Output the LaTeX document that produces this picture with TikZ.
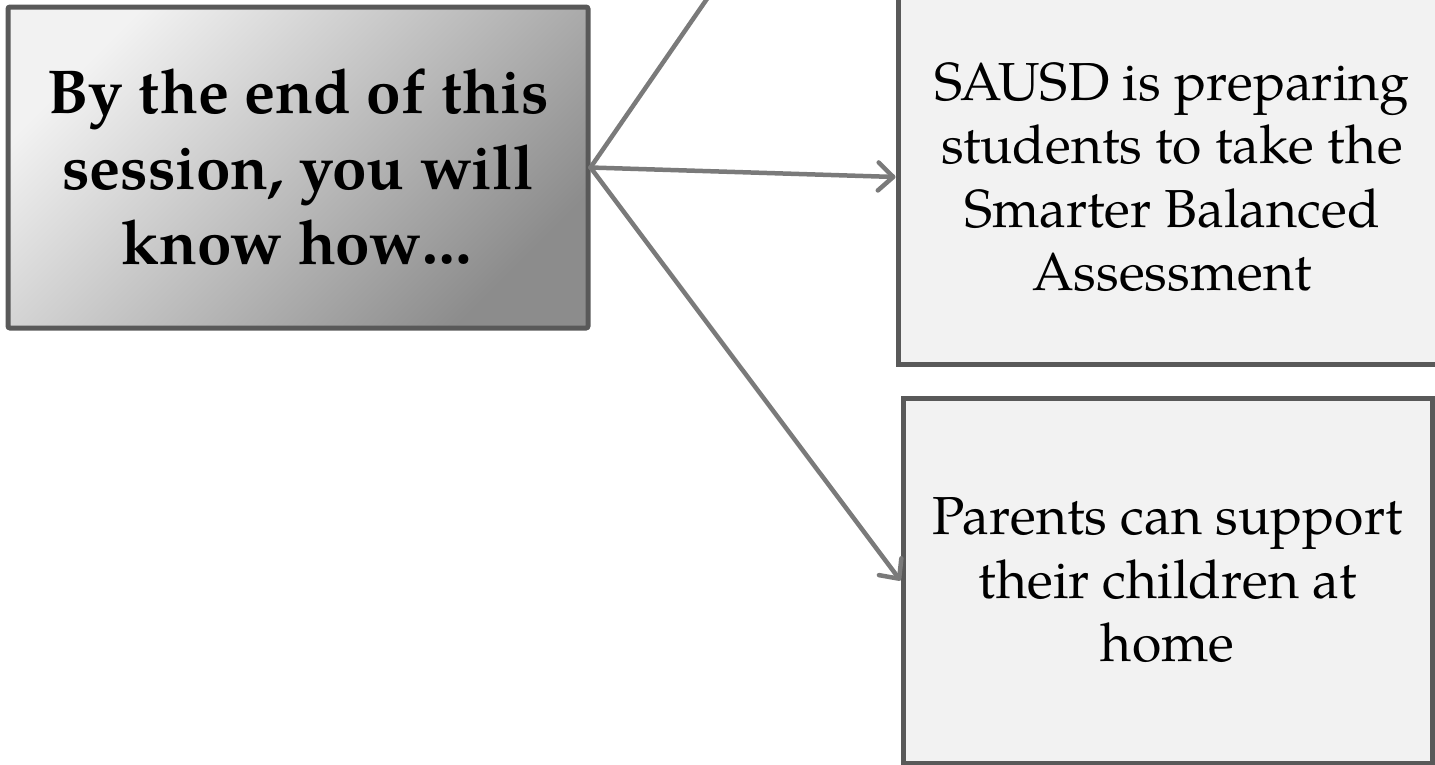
\documentclass[tikz,border=0pt]{standalone}
\usepackage{fontspec}
\setmainfont{TeX Gyre Pagella}
\usetikzlibrary{arrows.meta}
\definecolor{boxborder}{HTML}{595959}
\definecolor{boxfill}{HTML}{F2F2F2}
\definecolor{gradlight}{HTML}{F2F2F2}
\definecolor{graddark}{HTML}{8C8C8C}
\definecolor{linkgray}{HTML}{7A7A7A}
\tikzset{
  startbox/.style={draw=boxborder, line width=5pt, rounded corners=2pt,
    top color=gradlight, bottom color=graddark, shading angle=45,
    minimum width=580pt, minimum height=321pt, inner sep=0pt,
    align=center, text=black,
    font=\bfseries\fontsize{62}{75.5}\selectfont},
  itembox/.style={draw=boxborder, line width=5pt, fill=boxfill,
    inner sep=0pt, align=center, text=black,
    font=\fontsize{53.5}{63.5}\selectfont},
  link/.style={draw=linkgray, line width=4.5pt, line cap=round,
    -{Straight Barb[length=15pt,width=28pt,line cap=round,line join=round]}},
  plainlink/.style={draw=linkgray, line width=4.5pt, line cap=round}
}
\begin{document}
\begin{tikzpicture}[x=1pt,y=-1pt]
\useasboundingbox (0,0) rectangle (1435,764);
\node[startbox] (L) at (298,167.5) {By the end of this\\session, you will\\know how…};
\node[itembox, minimum width=548pt, minimum height=374pt] (T) at (1172,177)
  {SAUSD is preparing\\students to take the\\Smarter Balanced\\Assessment};
\node[itembox, minimum width=529pt, minimum height=365pt] (B) at (1167.5,580.5)
  {Parents can support\\their children at\\home};
\coordinate (up) at (720,-20);
\draw[plainlink] (L.east) -- (up);
\draw[link] (L.east) -- (T.west);
\draw[link] (L.east) -- (B.west);
\end{tikzpicture}
\end{document}
